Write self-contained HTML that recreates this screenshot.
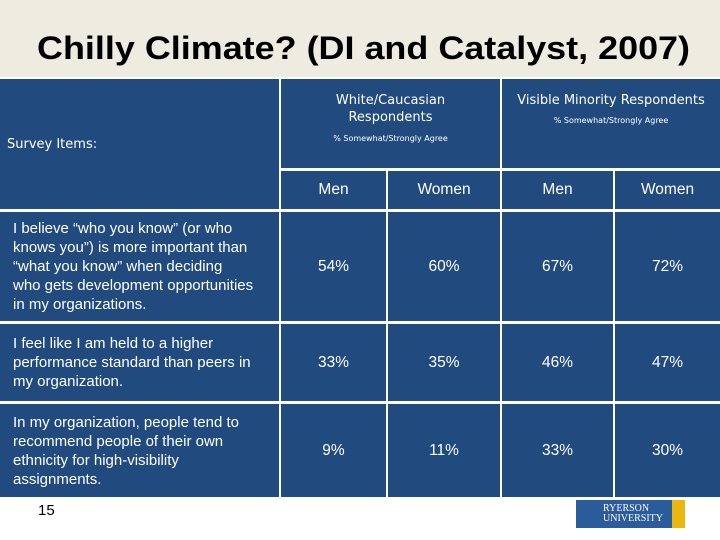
<!DOCTYPE html>
<html><head><meta charset="utf-8"><style>
body{margin:0;width:720px;height:540px;background:#fff;position:relative;overflow:hidden;font-family:"Liberation Sans",sans-serif}
.c{position:absolute;background:#214a7e;color:#fff;box-sizing:border-box;display:flex;align-items:center;justify-content:center;text-align:center;font-size:15px}
.l{justify-content:flex-start;text-align:left;padding-left:13px;padding-right:2px;font-family:"Liberation Sans",sans-serif;font-size:15px;line-height:19px;white-space:nowrap}
.v{font-family:"Liberation Sans",sans-serif;font-size:15.5px}
</style></head><body>
<div style="position:absolute;left:0;top:0;width:720px;height:77px;background:#eeebe1"></div>
<svg style="position:absolute;left:0;top:0" width="720" height="77"><text x="37" y="59" textLength="653" lengthAdjust="spacingAndGlyphs" font-family="Liberation Sans" font-weight="bold" font-size="32" fill="#000">Chilly Climate? (DI and Catalyst, 2007)</text></svg>

<div class="c l" style="left:0;top:79px;width:279px;height:130px;padding-left:7px;font-family:'DejaVu Sans',sans-serif;font-size:13px">Survey Items:</div>
<div class="c" style="left:281px;top:79px;width:219px;height:89px;flex-direction:column;justify-content:flex-start;padding-top:13px;font-family:'DejaVu Sans',sans-serif;font-size:13px;line-height:17px">White/Caucasian<br>Respondents<div style="font-size:8px;margin-top:4px">% Somewhat/Strongly Agree</div></div>
<div class="c" style="left:502px;top:79px;width:218px;height:89px;flex-direction:column;justify-content:flex-start;padding-top:13px;font-family:'DejaVu Sans',sans-serif;font-size:13px;line-height:17px">Visible Minority Respondents<div style="font-size:8px;margin-top:3px">% Somewhat/Strongly Agree</div></div>
<div class="c v" style="left:281px;top:171px;width:105px;height:38px">Men</div>
<div class="c v" style="left:388px;top:171px;width:112px;height:38px">Women</div>
<div class="c v" style="left:502px;top:171px;width:111px;height:38px">Men</div>
<div class="c v" style="left:615px;top:171px;width:105px;height:38px">Women</div>

<div class="c l" style="left:0;top:212px;width:279px;height:109px"><div>I believe “who you know” (or who<br>knows you”) is more important than<br>“what you know” when deciding<br>who gets development opportunities<br>in my organizations.</div></div>
<div class="c v" style="left:281px;top:212px;width:105px;height:109px">54%</div>
<div class="c v" style="left:388px;top:212px;width:112px;height:109px">60%</div>
<div class="c v" style="left:502px;top:212px;width:111px;height:109px">67%</div>
<div class="c v" style="left:615px;top:212px;width:105px;height:109px">72%</div>

<div class="c l" style="left:0;top:324px;width:279px;height:77px"><div>I feel like I am held to a higher<br>performance standard than peers in<br>my organization.</div></div>
<div class="c v" style="left:281px;top:324px;width:105px;height:77px">33%</div>
<div class="c v" style="left:388px;top:324px;width:112px;height:77px">35%</div>
<div class="c v" style="left:502px;top:324px;width:111px;height:77px">46%</div>
<div class="c v" style="left:615px;top:324px;width:105px;height:77px">47%</div>

<div class="c l" style="left:0;top:404px;width:279px;height:93px"><div>In my organization, people tend to<br>recommend people of their own<br>ethnicity for high-visibility<br>assignments.</div></div>
<div class="c v" style="left:281px;top:404px;width:105px;height:93px">9%</div>
<div class="c v" style="left:388px;top:404px;width:112px;height:93px">11%</div>
<div class="c v" style="left:502px;top:404px;width:111px;height:93px">33%</div>
<div class="c v" style="left:615px;top:404px;width:105px;height:93px">30%</div>

<div style="position:absolute;left:38px;top:502px;font-size:15px;color:#000">15</div>
<div style="position:absolute;left:576px;top:500px;width:96px;height:28px;background:#2a5b9b;color:#fff;font-family:'Liberation Serif',serif;font-size:10px;line-height:10px;padding:4px 0 0 27px;box-sizing:border-box">RYERSON<br>UNIVERSITY</div>
<div style="position:absolute;left:672px;top:500px;width:13px;height:28px;background:#e8b810"></div>
</body></html>
